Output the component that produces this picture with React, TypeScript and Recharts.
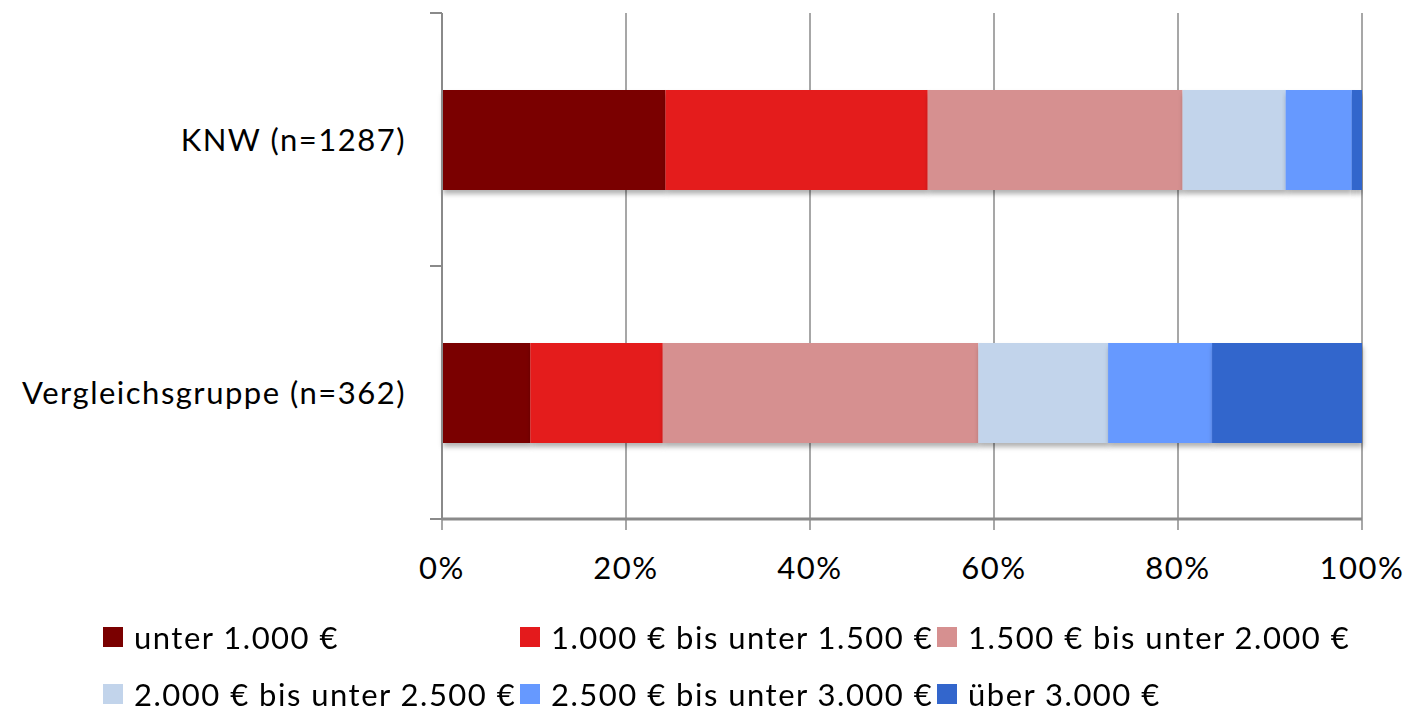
import { BarChart, Bar, XAxis, YAxis, CartesianGrid, Legend } from "recharts";

const categories = ["KNW (n=1287)", "Vergleichsgruppe (n=362)"];

const incomeBands = [
  "unter 1.000 €",
  "1.000 € bis unter 1.500 €",
  "1.500 € bis unter 2.000 €",
  "2.000 € bis unter 2.500 €",
  "2.500 € bis unter 3.000 €",
  "über 3.000 €",
];

// shares in percent, per income band
const knwShares = [24.3, 28.5, 27.7, 11.2, 7.2, 1.1];
const vergleichShares = [9.6, 14.4, 34.3, 14.1, 11.3, 16.3];

const xTicks = [0, 20, 40, 60, 80, 100];

const BAND_COLORS = ["#7A0000", "#E41A1C", "#D69090", "#C2D4EB", "#6699FF", "#3366CC"];

const FONT = "Lato, 'Open Sans', sans-serif";
const FONT_SIZE = 31;
const SPACING = "1.5px";
const WIDTH = 1409;
const HEIGHT = 710;
const MARGIN = { top: 13, right: 47, left: 0, bottom: 0 };
const X_AXIS_HEIGHT = 70;
const LEGEND_HEIGHT = 121;
const PLOT_HEIGHT = HEIGHT - MARGIN.top - MARGIN.bottom - X_AXIS_HEIGHT - LEGEND_HEIGHT;
const BAND = PLOT_HEIGHT / categories.length;
const GRID = "#8a8a8a";

const shareRows = [knwShares, vergleichShares];
const data = categories.map((name, i) => {
  const row: Record<string, string | number> = { name };
  incomeBands.forEach((_, k) => {
    row[`b${k}`] = shareRows[i][k];
  });
  return row;
});

// category label plus Excel-style tick marks at the band edges
function CategoryTick(props: any) {
  const { x, y, payload } = props;
  const axisX = x + 36;
  return (
    <g>
      <line x1={axisX - 12} x2={axisX} y1={y - BAND / 2} y2={y - BAND / 2} stroke={GRID} strokeWidth={2} />
      <line x1={axisX - 12} x2={axisX} y1={y + BAND / 2} y2={y + BAND / 2} stroke={GRID} strokeWidth={2} />
      <text
        x={x}
        y={y}
        dy="0.355em"
        textAnchor="end"
        fontSize={FONT_SIZE}
        fontFamily={FONT}
        fill="#000"
        style={{ letterSpacing: SPACING }}
      >
        {payload.value}
      </text>
    </g>
  );
}

function PercentTick(props: any) {
  const { x, y, payload } = props;
  return (
    <text
      x={x}
      y={y}
      dy="0.71em"
      textAnchor="middle"
      fontSize={FONT_SIZE}
      fontFamily={FONT}
      fill="#000"
      style={{ letterSpacing: SPACING }}
    >
      {`${payload.value}%`}
    </text>
  );
}

function BandLegend() {
  return (
    <div
      style={{
        height: LEGEND_HEIGHT,
        width: WIDTH,
        boxSizing: "border-box",
        paddingLeft: 103,
        paddingTop: 33,
        display: "grid",
        gridTemplateColumns: "417px 417px 417px",
        gridAutoRows: 57,
        fontFamily: FONT,
        fontSize: FONT_SIZE,
        lineHeight: 1,
        letterSpacing: SPACING,
        color: "#000",
      }}
    >
      {incomeBands.map((label, i) => (
        <div key={label} style={{ display: "flex", alignItems: "center", whiteSpace: "nowrap", height: 30 }}>
          <span
            style={{
              display: "inline-block",
              width: 20,
              height: 20,
              background: BAND_COLORS[i],
              marginRight: 11,
              flex: "none",
            }}
          />
          <span>{label}</span>
        </div>
      ))}
    </div>
  );
}

export default function App() {
  return (
    <div style={{ position: "fixed", left: 0, top: 0, width: WIDTH, height: HEIGHT, background: "#fff" }}>
      <BarChart width={WIDTH} height={HEIGHT} data={data} layout="vertical" margin={MARGIN} barSize={100}>
        <defs>
          <filter id="barShadow" x="-5%" y="-20%" width="110%" height="150%">
            <feDropShadow dx="1" dy="4" stdDeviation="2.5" floodColor="#000" floodOpacity="0.3" />
          </filter>
        </defs>
        <CartesianGrid horizontal={false} stroke={GRID} strokeWidth={1.5} />
        <XAxis
          type="number"
          domain={[0, 100]}
          ticks={xTicks}
          height={X_AXIS_HEIGHT}
          tickSize={11}
          tickMargin={27}
          tickLine={{ stroke: GRID, strokeWidth: 1.5 }}
          axisLine={{ stroke: GRID, strokeWidth: 3 }}
          tick={<PercentTick />}
          interval={0}
        />
        <YAxis
          type="category"
          dataKey="name"
          width={442}
          tickSize={0}
          tickMargin={36}
          tickLine={false}
          axisLine={{ stroke: GRID, strokeWidth: 2 }}
          tick={<CategoryTick />}
        />
        {incomeBands.map((label, k) => (
          <Bar
            key={label}
            dataKey={`b${k}`}
            name={label}
            stackId="share"
            fill={BAND_COLORS[k]}
            filter="url(#barShadow)"
            isAnimationActive={false}
          />
        ))}
        <Legend verticalAlign="bottom" height={LEGEND_HEIGHT} wrapperStyle={{ left: 0, width: WIDTH }} content={<BandLegend />} />
      </BarChart>
    </div>
  );
}
